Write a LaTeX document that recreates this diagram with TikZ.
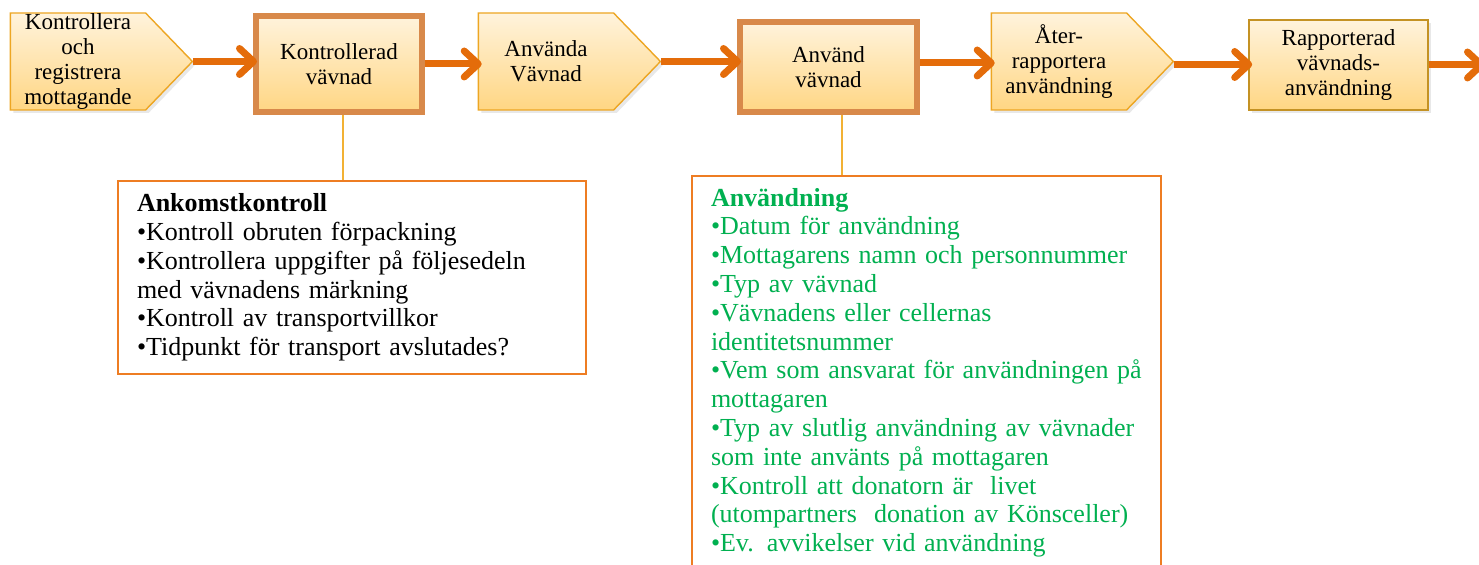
\documentclass[tikz,border=0pt]{standalone}
\usepackage{fontspec}
\setmainfont{Liberation Serif}
\usetikzlibrary{arrows.meta, shapes.symbols, shadows}

\definecolor{flowarrow}{HTML}{E46C0A}
\definecolor{pentline}{HTML}{EDA623}
\definecolor{thickline}{HTML}{D8894A}
\definecolor{plainline}{HTML}{C49224}
\definecolor{filltop}{HTML}{FFF3DC}
\definecolor{fillbot}{HTML}{FFD683}
\definecolor{listgreen}{HTML}{00B050}
\definecolor{stemline}{HTML}{F2B134}
\definecolor{listline}{HTML}{EE7D23}

\tikzset{
    stepfill/.style={top color=filltop, bottom color=fillbot,
        drop shadow={opacity=0.18, shadow xshift=1.5pt, shadow yshift=-1.5pt}},
    pent/.style={stepfill, signal, signal to=east, signal pointer angle=92,
        draw=pentline, line width=0.7pt, align=center, inner sep=0pt,
        minimum width=91pt, minimum height=48.5pt,
        font=\fontsize{11.5}{12.5}\selectfont},
    heavybox/.style={stepfill, rectangle, draw=thickline, line width=3pt,
        align=center, inner sep=0pt, font=\fontsize{11.5}{12.5}\selectfont},
    plainbox/.style={stepfill, rectangle, draw=plainline, line width=0.8pt,
        align=center, inner sep=0pt, font=\fontsize{11.5}{12.5}\selectfont},
    flow/.style={flowarrow, line width=3.5pt, shorten >=-2pt,
        -{Straight Barb[length=7pt, width=13pt, round]}},
    stem/.style={stemline, line width=1pt},
    listbox/.style={draw=listline, line width=1pt, fill=white, anchor=north west,
        align=left, inner xsep=9.5pt, inner ysep=6pt,
        font=\fontsize{13}{14.4}\selectfont}
}

\begin{document}
\begin{tikzpicture}[x=0.5pt, y=-0.5pt]

\clip (0,0) rectangle (1479,565);

% Flow boxes
\node[pent] (reg) at (78,61.5) {Kontrollera\\och\\registrera\\mottagande};
\node[heavybox, minimum width=83pt, minimum height=48pt] (kontr) at (339,64) {Kontrollerad\\vävnad};
\node[pent] (anvanda) at (546,61.5) {Använda\\Vävnad};
\node[heavybox, minimum width=88.5pt, minimum height=45pt] (anvand) at (828.5,67) {Använd\\vävnad};
\node[pent] (ater) at (1059,61.5) {Åter-\\rapportera\\användning};
\node[plainbox, minimum width=89.5pt, minimum height=45pt] (rapp) at (1338.5,65) {Rapporterad\\vävnads-\\användning};
\coordinate (ut) at (1481,65);

% Arrows
\draw[flow] (reg.east) -- (reg.east -| kontr.west);
\draw[flow] (kontr.east) -- (kontr.east -| anvanda.west);
\draw[flow] (anvanda.east) -- (anvanda.east -| anvand.west);
\draw[flow] ([yshift=2pt]anvand.east) -- ([yshift=2pt]anvand.east -| ater.west);
\draw[flow] ([yshift=-1.5pt]ater.east) -- ([yshift=-1.5pt]ater.east -| rapp.west);
\draw[flow] (rapp.east) -- (ut);

% Detail boxes
\node[listbox, text width=215pt, minimum width=234pt, minimum height=96.5pt] (ankomst) at (117,180)
    {\textbf{Ankomstkontroll}\\
     •Kontroll obruten förpackning\\
     •Kontrollera uppgifter på följesedeln\\
     med vävnadens märkning\\
     •Kontroll av transportvillkor\\
     •Tidpunkt för transport avslutades?};

\node[listbox, text width=215.5pt, minimum width=234.5pt] (anvandning) at (691,175)
    {\color{listgreen}\textbf{Användning}\\
     \color{listgreen}•Datum för användning\\
     \color{listgreen}•Mottagarens namn och personnummer\\
     \color{listgreen}•Typ av vävnad\\
     \color{listgreen}•Vävnadens eller cellernas\\
     \color{listgreen}identitetsnummer\\
     \color{listgreen}•Vem som ansvarat för användningen på\\
     \color{listgreen}mottagaren\\
     \color{listgreen}•Typ av slutlig användning av vävnader\\
     \color{listgreen}som inte använts på mottagaren\\
     •Kontroll att donatorn är\ \ livet\\
     (utompartners\ \ donation av Könsceller)\\
     •Ev. avvikelser vid användning\\[6pt]};

% Stems
\draw[stem] ([xshift=2pt]kontr.south) -- ([xshift=2pt]kontr.south |- ankomst.north);
\draw[stem] ([xshift=6.5pt]anvand.south) -- ([xshift=6.5pt]anvand.south |- anvandning.north);

\end{tikzpicture}
\end{document}
